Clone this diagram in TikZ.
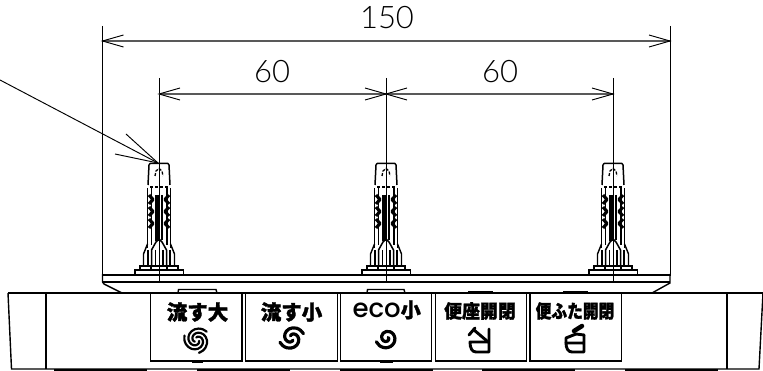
\documentclass[tikz,border=0pt]{standalone}
\usepackage{fontspec}
\usetikzlibrary{calc}
\setmainfont{Liberation Sans}
\newfontfamily\dimfont{Lato Light}
\newfontfamily\cjk[FakeBold=1.6]{Noto Sans CJK JP Black}
\newfontfamily\ecofont{Poppins Medium}
\tikzset{
  thinln/.style={line width=0.95pt,black},
  dimln/.style={line width=1.2pt,black!65},
  heavy/.style={line width=2.2pt,black},
  outline/.style={line width=1.4pt,black},
  swirl/.style={line width=3.2pt,black,line cap=round,line join=round},
  icon/.style={line width=2.9pt,black,line join=round,line cap=round},
  dimtext/.style={font=\dimfont\fontsize{31}{31}\selectfont,inner sep=0pt,text=black},
  btntext/.style={font=\cjk\fontsize{20.5}{20.5}\selectfont,inner sep=0pt},
  pics/bolt/.style={code={
    % head
    \draw[line width=1.5pt,line join=round] (-11,185) -- (-10,165) -- (-9,163.5) -- (9,163.5) -- (10,165) -- (11,185);
    \draw[line width=1.1pt,dash pattern=on 3pt off 2pt] (-9,187) -- (9,187);
    \draw[line width=1.3pt,dash pattern=on 3pt off 1.5pt] (-4,176) -- (-3,171) -- (0,168.5) -- (3,171) -- (4,176);
    % body
    \draw[line width=1.4pt] (-11.5,188) -- (-11.5,248) (11.5,188) -- (11.5,248);
    \draw[line width=1.1pt] (-7.5,188) -- (-7.5,245) (8,188) -- (8,245);
    \draw[line width=4pt] (-2,195) -- (-2,241);
    \draw[line width=1.2pt] (3,195) -- (3,240);
    % serrations
    \foreach \s in {-1,1}{
      \foreach \yy in {195,207,219}{
        \draw[line width=3.2pt,line join=round] ({\s*10},\yy) -- ({\s*6},{\yy+4.5}) -- ({\s*10},{\yy+9});
      }
    }
    % flared foot
    \draw[line width=1.4pt] (-11.5,244) -- (-15.5,254) -- (-15.5,266) (11.5,244) -- (15.5,254) -- (15.5,266);
    \draw[line width=1.4pt] (-11,250) -- (-11,266) (11,250) -- (11,266);
    \draw[line width=1.5pt,line join=round] (-7.5,266) -- (-7.5,250) -- (-3,242) -- (0,239) -- (3,242) -- (7.5,250) -- (7.5,266);
    \draw[line width=1.1pt] (-3.5,250) -- (-3.5,266) (4,250) -- (4,266);
    % flanges
    \draw[line width=1.4pt] (-19,270) -- (-19,266) -- (19,266) -- (19,270);
    \draw[line width=1.4pt] (-24,274) -- (-24,270) -- (24.5,270) -- (24.5,274);
    \draw[line width=1.1pt] (-8,266) -- (-8,270) (8,266) -- (8,270);
  }}
}
\begin{document}
\begin{tikzpicture}[x=1pt,y=-1pt]
\useasboundingbox (0,0) rectangle (763,371);
% reference coordinates
\coordinate (L) at (102.5,41);
\coordinate (R) at (670,41);
\coordinate (LE) at (102.5,26);
\coordinate (LB) at (102.5,276);
\coordinate (RE) at (670,26);
\coordinate (RB) at (670,276);
\coordinate (A) at (159,94);
\coordinate (B) at (386,94);
\coordinate (C) at (613,94);
\coordinate (AE) at (159,78);
\coordinate (BE) at (386,78);
\coordinate (CE) at (613,78);
\coordinate (AB) at (159,282);
\coordinate (BB) at (386,282);
\coordinate (CB) at (613,282);
\coordinate (Lead) at (0,80);
\coordinate (Tip) at (158,163);
% fasteners
\pic at (159,0) {bolt};
\pic at (386,0) {bolt};
\pic at (613,0) {bolt};
% extension lines
\draw[thinln] (LE) -- (LB);
\draw[thinln] (RE) -- (RB);
\draw[thinln] (AE) -- (AB);
\draw[thinln] (BE) -- (BB);
\draw[thinln] (CE) -- (CB);
% dimension lines
\draw[dimln] (L) -- (R);
\draw[dimln] (A) -- (B) -- (C);
\foreach \p/\s in {L/1,R/-1,A/1,B/-1,B/1,C/-1}{
  \draw[thinln] ($(\p)+({\s*21},-6)$) -- (\p) -- ($(\p)+({\s*21},6)$);
}
% leader
\draw[thinln] (Lead) -- (Tip);
\draw[thinln] (126,134) -- (Tip) -- (115,154);
% dimension texts
\node[dimtext] (t150) at (387,18) {150};
\node[dimtext] (t60a) at (272,71.5) {60};
\node[dimtext] (t60b) at (500,71.5) {60};
% plate
\draw[heavy] (103,275) -- (670,275);
\draw[heavy] (103,282) -- (670,282);
\draw[outline] (102.5,274) -- (102.5,282) -- (104,284) -- (122,293);
\draw[outline] (670,274) -- (670,283) -- (652,293);
% body
\draw[outline] (8,293) -- (763,293);
\draw[outline] (8,293) -- (11.5,369) -- (759,369) -- (763,293);
\draw[outline] (46,293) -- (46,369) (727,293) -- (727,369);
\foreach \a/\b in {54/147,197/290,340/433,482/575,625/718}{
  \draw[line width=2.4pt] (\a,370) -- (\b,370);
}
% tabs
\draw[outline] (178,293) -- (178.5,289.5) -- (216,289.5) -- (217,293);
\draw[outline] (367,293) -- (367.5,289.5) -- (404,289.5) -- (405,293);
\draw[line width=2pt] (468,292) -- (493,292) (563,292) -- (588,292);
\draw[line width=2pt] (192,362) -- (203,362) (380,362) -- (393,362);
% buttons
\draw[outline] (150.7,293) rectangle (242,361);
\draw[outline] (245.7,293) rectangle (337.5,361);
\draw[outline] (340.5,293) rectangle (431.7,361);
\draw[outline] (435.5,293) rectangle (526.5,361);
\draw[outline] (530,293) rectangle (621.5,361);
% button captions
\node[btntext] (b1) at (197.5,312) {流す大};
\node[btntext] (b2) at (291.5,312) {流す小};
\node[btntext] (b3) at (386.7,310) {{\ecofont\fontsize{26}{26}\selectfont eco}{\fontsize{20}{20}\selectfont 小}};
\node[btntext] (b4) at (480,311) {\scalebox{0.97}[1]{\fontsize{18.5}{18.5}\selectfont 便座開閉}};
\node[btntext] (b5) at (575,311) {\scalebox{0.85}[1]{\fontsize{18.5}{18.5}\selectfont 便ふた開閉}};
% swirls
\foreach \a in {20,140,260}{
  \draw[swirl,line width=2.2pt] plot[smooth,domain=0:1,samples=16,variable=\t]
    ({196.7+(2.5+10.5*\t)*cos(\a+300*\t)},{340+(2.5+10.5*\t)*sin(\a+300*\t)});
}
\foreach \a in {60,240}{
  \draw[swirl] plot[smooth,domain=0:1,samples=14,variable=\t]
    ({291.7+(2.5+10*\t)*cos(\a+280*\t)},{338+(2.5+10*\t)*sin(\a+280*\t)});
}
\draw[swirl] plot[smooth,domain=0:1,samples=18,variable=\t]
    ({386.7+(1.5+9.5*\t)*cos(-20+540*\t)},{338+(1.5+9.5*\t)*sin(-20+540*\t)});
% seat icon
\draw[icon] (489,329) -- (489,352) -- (476,352) .. controls (472,352) and (470,348) .. (470,342) -- (489,342);
\draw[icon] (474,330) -- (487,341);
\draw[icon] (469,335) -- (475,328);
% lid icon
\draw[icon] (584,335) -- (584,352) -- (572,352) .. controls (568,352) and (566,348) .. (566,343) -- (584,343);
\draw[icon] (566,343) -- (566,338) -- (576,334) -- (584,335);
\draw[line width=4.5pt,line cap=round] (574,331) -- (582,326);
\end{tikzpicture}
\end{document}
